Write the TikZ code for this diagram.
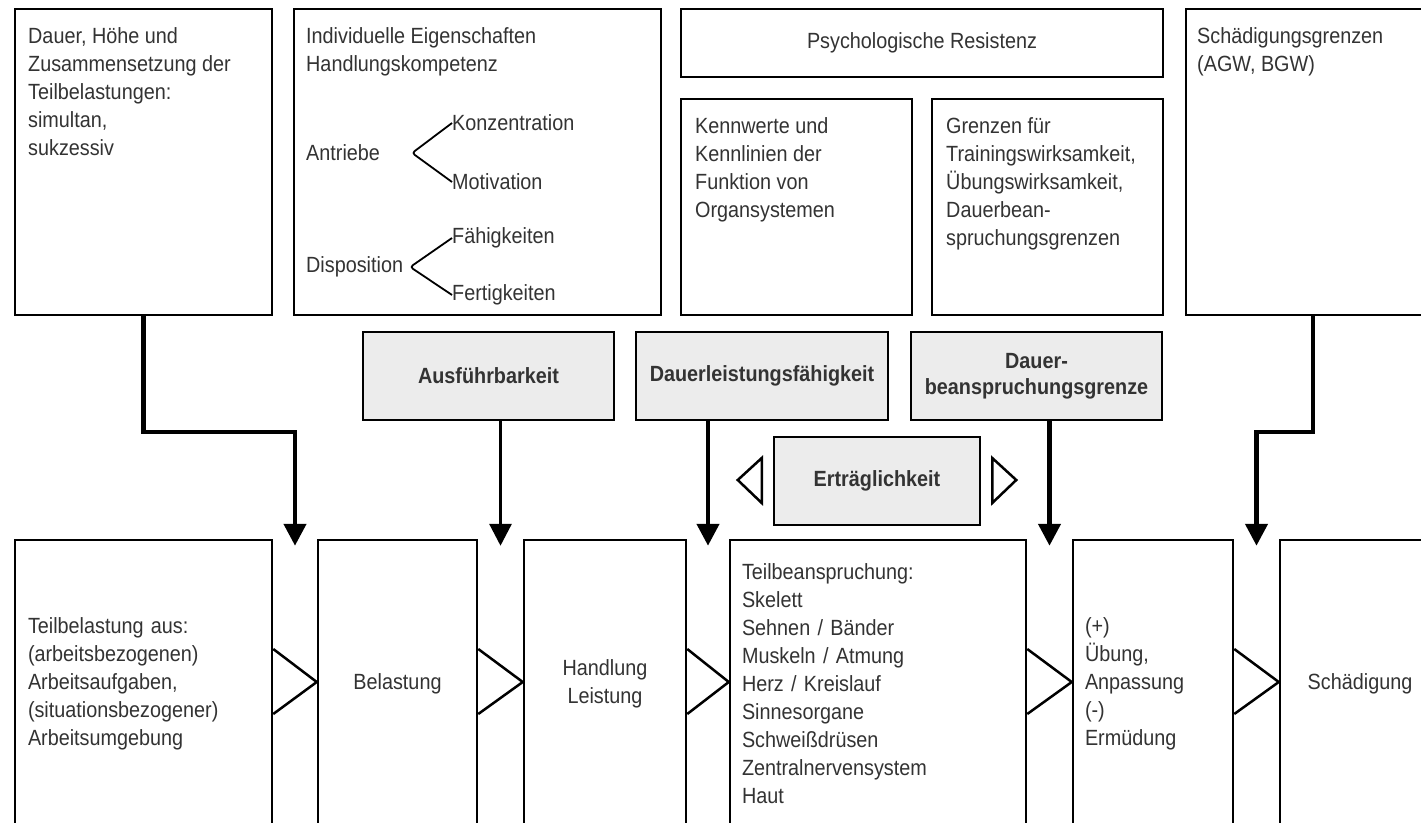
\documentclass[tikz,border=0pt]{standalone}
\usepackage{fontspec}
\setmainfont{Liberation Sans}[FakeStretch=0.9]
\usetikzlibrary{arrows.meta,calc}
\tikzset{>={Triangle[width=22pt,length=22pt]}}
\definecolor{boxgray}{gray}{0.925}
\definecolor{ink}{gray}{0.2}

\begin{document}
\begin{tikzpicture}[x=1pt,y=-1pt,font=\fontsize{22}{28}\selectfont,text=ink]
\path[use as bounding box,fill=white] (0,0) rectangle (1421,822);
\clip (0,0) rectangle (1421,822);
% top row
\begin{scope}[every node/.style={rectangle,draw=black,line width=2.5pt}]
\node[minimum width=257pt,minimum height=306pt] (T1) at (143.5,162) {};
\node[minimum width=367pt,minimum height=306pt] (T2) at (477.5,162) {};
\node[minimum width=482pt,minimum height=68pt] (T3) at (922,43) {Psychologische Resistenz};
\node[minimum width=231pt,minimum height=216pt] (T4) at (796.5,207) {};
\node[minimum width=231pt,minimum height=216pt] (T5) at (1047.5,207) {};
\node[minimum width=254pt,minimum height=306pt] (T6) at (1313,162) {};
\end{scope}
\begin{scope}[every node/.style={inner sep=0pt,anchor=north west,align=left}]
\node (T1t) at (28,27) {Dauer, Höhe und\\Zusammensetzung der\\Teilbelastungen:\\simultan,\\sukzessiv};
\node (T2t) at (306,27) {Individuelle Eigenschaften\\Handlungskompetenz};
\node (T4t) at (695,117) {Kennwerte und\\Kennlinien der\\Funktion von\\Organsystemen};
\node (T5t) at (946,117) {Grenzen für\\Trainingswirksamkeit,\\Übungswirksamkeit,\\Dauerbean-\\spruchungsgrenzen};
\node (T6t) at (1197,27) {Schädigungsgrenzen\\(AGW, BGW)};
\node[anchor=west] (A1) at (306,153) {Antriebe};
\node[anchor=west] (A2) at (452,123) {Konzentration};
\node[anchor=west] (A3) at (452,182) {Motivation};
\node[anchor=west] (D1) at (306,267) {Disposition};
\node[anchor=west] (D2) at (452,238) {Fähigkeiten};
\node[anchor=west] (D3) at (452,295) {Fertigkeiten};
\end{scope}
\begin{scope}[line width=1.8pt,rounded corners=3pt]
\draw (A2.west) -- ($(A1.east)+(32,0)$) -- (A3.west);
\draw (D2.west) -- ($(D1.east)+(7,0)$) -- (D3.west);
\end{scope}
% gray row
\begin{scope}[every node/.style={rectangle,draw=black,fill=boxgray,line width=2.5pt,
    minimum height=88pt,align=center,font=\fontsize{22}{26}\selectfont\bfseries}]
\node[minimum width=251pt] (G1) at (488.5,376) {Ausführbarkeit};
\node[minimum width=252pt] (G2) at (762,376) {Dauerleistungsfähigkeit};
\node[minimum width=251pt] (G3) at (1036.5,376) {Dauer-\\beanspruchungsgrenze};
\node[minimum width=206pt] (G4) at (877,481) {Erträglichkeit};
\end{scope}
% bottom row
\begin{scope}[every node/.style={rectangle,draw=black,line width=2.5pt,minimum height=288pt}]
\node[minimum width=257pt,text width=231pt,align=left] (B1) at (143.5,684)
  {Teilbelastung aus:\\(arbeitsbezogenen)\\Arbeitsaufgaben,\\(situationsbezogener)\\Arbeitsumgebung};
\node[minimum width=159pt,align=center] (B2) at (397.5,684) {Belastung};
\node[minimum width=162pt,align=center] (B3) at (605,684) {Handlung\\Leistung};
\node[minimum width=296pt,text width=272pt,align=left] (B4) at (878,684)
  {Teilbeanspruchung:\\Skelett\\Sehnen / Bänder\\Muskeln / Atmung\\Herz / Kreislauf\\Sinnesorgane\\Schweißdrüsen\\Zentralnervensystem\\Haut};
\node[minimum width=160pt,text width=136pt,align=left] (B5) at (1153,684)
  {(+)\\Übung,\\Anpassung\\(-)\\Ermüdung};
\node[minimum width=160pt,align=center] (B6) at (1360,684) {Schädigung};
\end{scope}
\coordinate (g1) at ($(B1.north east)!.5!(B2.north west)+(0,7)$);
\coordinate (g2) at ($(B2.north east)!.5!(B3.north west)+(0,7)$);
\coordinate (g3) at ($(B3.north east)!.5!(B4.north west)+(0,7)$);
\coordinate (g4) at ($(B4.north east)!.5!(B5.north west)+(0,7)$);
\coordinate (g5) at ($(B5.north east)!.5!(B6.north west)+(0,7)$);
\coordinate (knee) at (0,432);
\coordinate (tu) at (0,649);
\coordinate (tm) at (0,682);
\coordinate (td) at (0,714);
% open triangles
\begin{scope}[line width=2.5pt]
\foreach \a/\b in {B1/B2,B2/B3,B3/B4,B4/B5,B5/B6}
  \draw (\a.east |- tu) -- (\b.west |- tm) -- (\a.east |- td);
\draw ($(G4.west)+(-11,-23)$) -- ($(G4.west)+(-35,-1)$) -- ($(G4.west)+(-11,22)$) -- cycle;
\draw ($(G4.east)+(11,-23)$) -- ($(G4.east)+(35,-1)$) -- ($(G4.east)+(11,22)$) -- cycle;
\end{scope}
% arrows
\begin{scope}[line width=4.5pt]
\draw[->] (T1.south) -- (T1.south |- knee) -| (g1);
\draw[->,line width=3.2pt] (G1.south -| g2) -- (g2);
\draw[->] (G2.south -| g3) -- (g3);
\draw[->] (G3.south -| g4) -- (g4);
\draw[->] (T6.south) -- (T6.south |- knee) -| (g5);
\end{scope}
\end{tikzpicture}
\end{document}
